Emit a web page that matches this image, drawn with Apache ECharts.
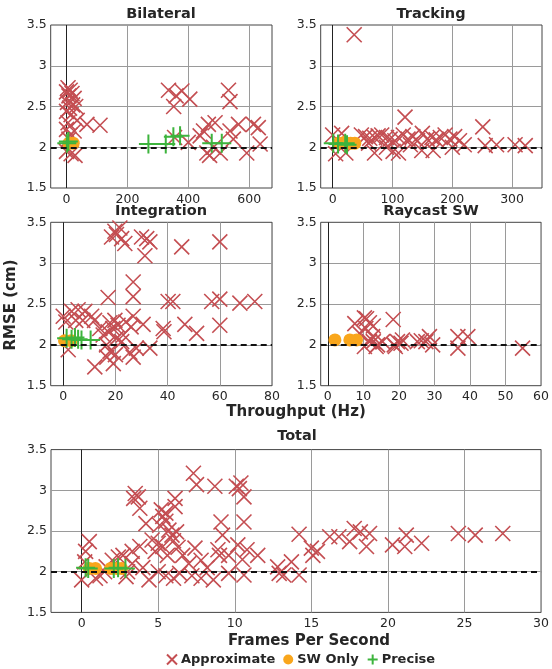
<!DOCTYPE html>
<html><head><meta charset="utf-8">
<script src="https://cdn.jsdelivr.net/npm/echarts@6/dist/echarts.min.js"></script>
<style>html,body{margin:0;padding:0;background:#fff}#c{width:552px;height:669px}</style>
</head><body><div id="c"></div>
<script>
// ---------- data ----------
const panelTitles = ['Bilateral', 'Tracking', 'Integration', 'Raycast SW', 'Total'];
const xMins = [-52, -20, -4.8, -2, -2];
const xMaxs = [675, 350, 80, 60, 30];
const xTickValues = [
  [0, 200, 400, 600],
  [0, 100, 200, 300],
  [0, 20, 40, 60, 80],
  [0, 10, 20, 30, 40, 50, 60],
  [0, 5, 10, 15, 20, 25, 30]
];
const yTickValues = [1.5, 2, 2.5, 3, 3.5];
const targetRmse = 2;
const seriesNames = ['Approximate', 'SW Only', 'Precise'];

const bilateralApprox = [[5,2.73],[12,2.7],[0,2.68],[18,2.66],[8,2.63],[25,2.6],[3,2.55],[20,2.52],[10,2.48],[30,2.5],[0,2.44],[15,2.4],[35,2.33],[5,2.3],[0,2.22],[25,2.2],[12,2.15],[67,2.28],[110,2.27],[8,2.1],[0,1.95],[15,1.92],[28,1.9],
  [335,2.7],[379,2.69],[360,2.63],[405,2.59],[352,2.5],[532,2.7],[537,2.56],[466,2.28],[488,2.3],[450,2.2],[439,2.14],[461,1.93],[483,2.0],[470,1.9],[505,1.93],[537,2.2],[565,2.28],[548,2.1],[592,1.93],[614,2.28],[630,2.24],[636,2.04],[400,2.06],[355,2.12]];
const bilateralSw = [[8,2.05],[22,2.05]];
const bilateralPrecise = [[1,2.05],[6,2.07],[269,2.04],[326,2.04],[351,2.13],[373,2.14],[477,2.05],[510,2.05]];

const trackingApprox = [[36,3.38],[121,2.37],[251,2.25],[0,2.15],[15,2.17],[5,1.92],[22,1.93],
  [48,2.15],[55,2.13],[62,2.11],[70,2.12],[76,2.14],[82,2.15],[90,2.12],[96,2.1],[104,2.08],[110,2.12],[118,2.15],[126,2.1],[134,2.13],[142,2.08],[150,2.17],[158,2.1],[166,2.12],[173,2.09],[180,2.12],[188,2.15],[196,2.1],[204,2.13],[212,2.08],[220,2.03],
  [70,1.93],[101,1.95],[110,1.93],[149,1.96],[168,1.96],[200,2.0],[255,2.02],[274,2.03],[305,2.03],[322,2.02],[60,2.05],[90,2.0],[130,2.03]];
const trackingSw = [[10,2.05],[20,2.06],[30,2.05],[37,2.05]];
const trackingPrecise = [[1,2.05],[9,2.04],[21,2.05],[24,2.03]];

const integrationApprox = [[19.8,3.39],[21.7,3.43],[18.5,3.32],[22.4,3.3],[23.6,3.24],[20.4,3.35],[30,3.32],[32,3.3],[33.2,3.26],[31.3,3.09],[45.4,3.2],[60,3.26],
  [26.8,2.77],[26.8,2.59],[17.2,2.58],[40.2,2.53],[42,2.53],[56.9,2.53],[60,2.56],[67.7,2.51],[73.4,2.53],
  [60,2.24],[46.6,2.25],[51.1,2.14],[38.3,2.2],[38.6,2.16],[30.6,2.25],[26.8,2.35],[26,2.22],
  [0,2.35],[3.2,2.41],[5.7,2.43],[8.3,2.41],[10.9,2.35],[1,2.28],[4.8,2.3],[7.5,2.3],[12,2.3],[14,2.2],
  [17.9,2.27],[19.8,2.3],[21,2.24],[19,2.2],[17.2,2.16],[15.3,2.12],[20.4,2.08],[22.4,2.04],[24,2.28],[23,2.12],
  [12.1,1.73],[16.7,1.85],[19.2,1.77],[17.9,1.92],[16.6,2.0],[25.5,1.91],[26.8,1.85],[28,1.96],[33.2,1.96],[1.9,1.94],[20,1.88]];
const integrationSw = [[0.5,2.05],[3,2.05]];
const integrationPrecise = [[1.3,2.08],[3.2,2.07],[4.5,2.09],[5.7,2.07],[7,2.06],[10.5,2.06]];

const raycastApprox = [[7.6,2.26],[10.3,2.33],[10.9,2.32],[11.7,2.27],[12.8,2.23],[10.7,2.2],[18.4,2.31],[8.9,2.14],[10.3,1.98],[11.7,2.04],[12.6,2.1],[13.6,1.98],[15.4,2.04],[18.7,2.0],[19.6,2.04],[20.6,2.02],[21,2.06],[19,1.98],[25.2,2.04],[26.3,2.05],[27.6,2.04],[28.6,2.1],[29.5,2.0],[36.6,2.1],[36.6,1.96],[39.4,2.1],[54.8,1.96],[14,2.0],[12.8,2.04]];
const raycastSw = [[2,2.06],[6.2,2.06],[8.1,2.06]];
const raycastPrecise = [];

const totalApprox = [[7.3,3.21],[7.5,3.07],[8.7,3.05],[10.1,3.05],[10.4,3.09],[10.6,2.92],[10.3,3.02],
  [3.5,2.96],[3.7,2.92],[3.8,2.78],[3.4,2.9],[5.2,2.76],[5.5,2.72],[6.1,2.9],[6.1,2.8],[5.3,2.68],
  [4.2,2.59],[5.1,2.57],[5.7,2.51],[5.9,2.45],[6.2,2.49],[5.5,2.62],[9.1,2.61],[9.2,2.45],[10.6,2.61],
  [4.6,2.39],[5,2.35],[5.3,2.31],[4.8,2.25],[3.8,2.31],[3.3,2.25],[6.0,2.38],[6.3,2.3],[5.6,2.2],[6.6,2.2],
  [0.5,2.37],[0.26,2.25],[7.4,2.29],[8.9,2.27],[10.2,2.33],[10.8,2.27],[11.5,2.2],[9.0,2.2],[10.5,2.15],
  [7.8,2.14],[9.6,2.2],[8.2,2.05],[7.0,2.1],
  [10.6,1.96],[9.6,1.98],[7.8,1.92],[6.0,1.92],[4.4,1.9],[6.4,1.98],[8.6,1.9],[5.0,2.0],[4.0,2.05],[7.2,1.95],[5.5,1.95],
  [0,1.9],[0.9,1.92],[1.6,2.06],[2.0,2.14],[2.4,2.18],[2.9,1.94],[3.3,2.1],[1.2,1.95],[2.7,2.2],[3.0,2.0],[0.2,2.12],[1.5,2.0],
  [12.8,2.06],[13.2,1.96],[13.7,2.12],[12.9,1.98],[14.2,1.96],[14.2,2.46],[15.0,2.29],[15.1,2.2],[15.4,2.25],
  [16.2,2.43],[16.8,2.43],[17.5,2.37],[17.8,2.53],[18.2,2.49],[18.8,2.47],[18.6,2.31],[20.3,2.33],[21.1,2.31],[21.2,2.45],[22.2,2.35],
  [24.6,2.47],[25.7,2.45],[27.5,2.47]];
const totalSw = [[0.5,2.04],[0.9,2.04],[1.9,2.04],[2.3,2.04],[2.6,2.04]];
const totalPrecise = [[0.26,2.05],[0.43,2.04],[2.1,2.04],[2.38,2.05],[2.86,2.04]];

const approxData = [bilateralApprox, trackingApprox, integrationApprox, raycastApprox, totalApprox];
const swData = [bilateralSw, trackingSw, integrationSw, raycastSw, totalSw];
const preciseData = [bilateralPrecise, trackingPrecise, integrationPrecise, raycastPrecise, totalPrecise];

// ---------- style / layout ----------
const FONT = 'DejaVu Sans';
const TXT = '#262626';
const RED = '#C44E52', ORANGE = '#F9A61C', GREEN = '#3DB43D';
const GRIDLINE = '#9a9a9a';
const X_PATH = 'path://M0,0L10,10M10,0L0,10';
const PLUS_PATH = 'path://M5,0L5,10M0,5L10,5';
const grids = [
  {left: 50.7, top: 25, width: 221.3, height: 163},
  {left: 320.7, top: 25, width: 221.3, height: 163},
  {left: 50.7, top: 222.3, width: 221.3, height: 163.4},
  {left: 320.7, top: 222.3, width: 221.3, height: 163.4},
  {left: 51, top: 449.6, width: 490.7, height: 162.8}
].map(g => Object.assign({show: true, borderColor: '#444', borderWidth: 1}, g));
const titlePos = [[161, 7], [431, 7], [161, 204], [431, 204], [297, 429]];

const xAxes = [], yAxes = [], series = [];
for (let i = 0; i < 5; i++) {
  xAxes.push({
    gridIndex: i, type: 'value', min: xMins[i], max: xMaxs[i],
    axisLine: {show: false},
    axisTick: {show: false, customValues: xTickValues[i]},
    axisLabel: {customValues: xTickValues[i], fontSize: 12.5, color: TXT, fontFamily: FONT, margin: 5},
    splitLine: {show: false}
  });
  yAxes.push({
    gridIndex: i, type: 'value', min: 1.5, max: 3.5, interval: 0.5,
    axisLine: {show: false}, axisTick: {show: false},
    axisLabel: {fontSize: 12.5, color: TXT, fontFamily: FONT, margin: 4, formatter: v => String(v)},
    splitLine: {show: false}
  });
  // grid lines at tick positions, through the axes' own scales
  series.push({
    type: 'scatter', xAxisIndex: i, yAxisIndex: i, data: [], z: 1,
    markLine: {silent: true, symbol: 'none', label: {show: false}, animation: false, z: 1,
      lineStyle: {color: GRIDLINE, width: 1, type: 'solid'},
      data: xTickValues[i].filter(v => v !== 0).map(v => ({xAxis: v}))
        .concat(yTickValues.slice(1, -1).map(v => ({yAxis: v})))
        .concat([{xAxis: 0, lineStyle: {color: '#222', width: 1, type: 'solid'}}])}
  });
  series.push({
    type: 'scatter', name: seriesNames[0], xAxisIndex: i, yAxisIndex: i, data: approxData[i],
    symbol: X_PATH, symbolSize: 15, z: 3,
    itemStyle: {color: 'rgba(0,0,0,0)', borderColor: RED, borderWidth: 1.6, opacity: 1}
  });
  series.push({
    type: 'scatter', name: seriesNames[1], xAxisIndex: i, yAxisIndex: i, data: swData[i],
    symbol: 'circle', symbolSize: 13, z: 4, itemStyle: {color: ORANGE, opacity: 1}
  });
  series.push({
    type: 'scatter', name: seriesNames[2], xAxisIndex: i, yAxisIndex: i, data: preciseData[i],
    symbol: PLUS_PATH, symbolSize: 19, z: 5,
    itemStyle: {color: 'rgba(0,0,0,0)', borderColor: GREEN, borderWidth: 2, opacity: 1}
  });
  series.push({
    type: 'scatter', xAxisIndex: i, yAxisIndex: i, data: [], z: 6,
    markLine: {silent: true, symbol: 'none', label: {show: false}, animation: false, z: 6,
      data: [{yAxis: targetRmse, lineStyle: {color: '#111', width: 2, type: [6, 4]}}]}
  });
}

const titles = panelTitles.map((t, i) => ({
  text: t, left: titlePos[i][0], top: titlePos[i][1], textAlign: 'center', padding: 0,
  textStyle: {fontFamily: FONT, fontSize: 14.5, fontWeight: 'bold', color: TXT}
}));

const option = {
  animation: false,
  backgroundColor: '#fff',
  title: titles,
  grid: grids, xAxis: xAxes, yAxis: yAxes, series: series,
  legend: {
    data: seriesNames, left: 161, top: 648, itemWidth: 10, itemHeight: 10, itemGap: 8,
    textStyle: {fontFamily: FONT, fontSize: 13, fontWeight: 'bold', color: TXT, padding: [0, 0, 0, -1]},
    selectedMode: false
  },
  graphic: [
    {type: 'text', rotation: Math.PI / 2, x: 11, y: 305, style: {text: 'RMSE (cm)', font: 'bold 15px "DejaVu Sans"', fill: TXT, align: 'center', verticalAlign: 'middle'}},
    {type: 'text', x: 296, y: 412, style: {text: 'Throughput (Hz)', font: 'bold 15px "DejaVu Sans"', fill: TXT, align: 'center', verticalAlign: 'middle'}},
    {type: 'text', x: 309, y: 641, style: {text: 'Frames Per Second', font: 'bold 15px "DejaVu Sans"', fill: TXT, align: 'center', verticalAlign: 'middle'}}
  ]
};
const chart = echarts.init(document.getElementById('c'), null, {renderer: 'canvas'});
chart.setOption(option);
</script></body></html>
